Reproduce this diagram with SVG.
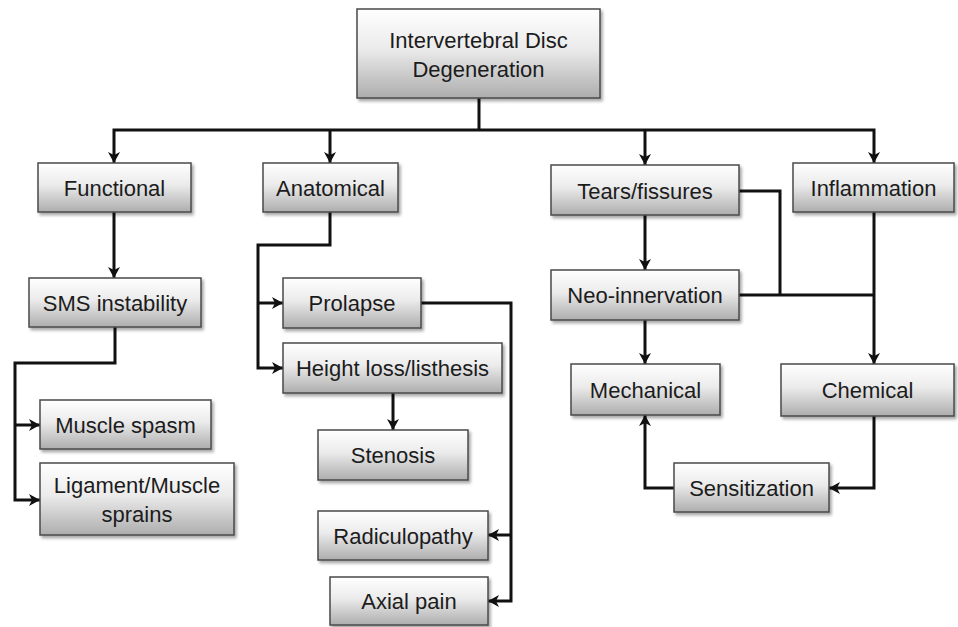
<svg xmlns="http://www.w3.org/2000/svg" width="958" height="627" viewBox="0 0 958 627">
<defs>
<linearGradient id="g" x1="0" y1="0" x2="0" y2="1">
<stop offset="0" stop-color="#ffffff"/>
<stop offset="0.45" stop-color="#ebebeb"/>
<stop offset="1" stop-color="#adadad"/>
</linearGradient>
<filter id="sh" x="-10%" y="-10%" width="130%" height="140%">
<feDropShadow dx="2" dy="2.5" stdDeviation="1.5" flood-color="#000" flood-opacity="0.35"/>
</filter>
<marker id="ah" markerUnits="userSpaceOnUse" markerWidth="14" markerHeight="14" refX="11" refY="6" orient="auto">
<path d="M0,0 L11,6 L0,12 L3,6 z" fill="#111"/>
</marker>
<style>
.box rect{fill:url(#g);stroke:#4a4a4a;stroke-width:1.5;filter:url(#sh)}
.box text{font-family:"Liberation Sans",Arial,sans-serif;font-size:22px;fill:#1c1c1c;text-anchor:middle}
#connectors path{fill:none;stroke:#111;stroke-width:3}
.arr{marker-end:url(#ah)}
</style>
</defs>
<rect width="958" height="627" fill="#ffffff"/>
<g id="connectors">
<path d="M479,98 V130"/>
<path class="arr" d="M479,130 H114 V163"/>
<path class="arr" d="M330,130 V163"/>
<path class="arr" d="M645,130 V165"/>
<path class="arr" d="M479,130 H874 V163"/>
<path class="arr" d="M114,212 V278"/>
<path class="arr" d="M115,327 V363 H15 V500 H40"/>
<path class="arr" d="M15,425 H40"/>
<path class="arr" d="M330,212 V245 H258 V368 H283"/>
<path class="arr" d="M258,303 H283"/>
<path class="arr" d="M393,393 V430"/>
<path class="arr" d="M421,303 H511 V601 H488"/>
<path class="arr" d="M511,535 H488"/>
<path class="arr" d="M645,215 V270"/>
<path d="M739,191 H780 V295"/>
<path d="M739,295 H874"/>
<path class="arr" d="M874,212 V364"/>
<path class="arr" d="M645,320 V364"/>
<path class="arr" d="M874,416 V488 H829"/>
<path class="arr" d="M674,488 H645 V415"/>
</g>
<g id="root" class="box"><rect x="357" y="9" width="243" height="89"/><text x="478.5" y="48">Intervertebral Disc</text><text x="478.5" y="77">Degeneration</text></g>
<g id="functional" class="box"><rect x="38" y="163" width="153" height="49"/><text x="114.5" y="196">Functional</text></g>
<g id="anatomical" class="box"><rect x="263" y="163" width="135" height="49"/><text x="330.5" y="196">Anatomical</text></g>
<g id="tears" class="box"><rect x="551" y="165" width="188" height="50"/><text x="645" y="199">Tears/fissures</text></g>
<g id="inflammation" class="box"><rect x="793" y="163" width="161" height="49"/><text x="873.5" y="196">Inflammation</text></g>
<g id="sms" class="box"><rect x="29" y="278" width="172" height="49"/><text x="115" y="311">SMS instability</text></g>
<g id="spasm" class="box"><rect x="40" y="400" width="171" height="49"/><text x="125.5" y="433">Muscle spasm</text></g>
<g id="sprains" class="box"><rect x="40" y="463" width="194" height="72"/><text x="137" y="493">Ligament/Muscle</text><text x="137" y="522">sprains</text></g>
<g id="prolapse" class="box"><rect x="283" y="278" width="138" height="50"/><text x="352" y="311">Prolapse</text></g>
<g id="heightloss" class="box"><rect x="283" y="343" width="219" height="50"/><text x="392.5" y="376">Height loss/listhesis</text></g>
<g id="stenosis" class="box"><rect x="318" y="430" width="150" height="50"/><text x="393" y="463">Stenosis</text></g>
<g id="radiculopathy" class="box"><rect x="318" y="511" width="170" height="49"/><text x="403" y="544">Radiculopathy</text></g>
<g id="axial" class="box"><rect x="330" y="577" width="158" height="48"/><text x="409" y="609">Axial pain</text></g>
<g id="neo" class="box"><rect x="551" y="270" width="188" height="50"/><text x="645" y="303">Neo-innervation</text></g>
<g id="mechanical" class="box"><rect x="571" y="364" width="149" height="51"/><text x="645.5" y="398">Mechanical</text></g>
<g id="chemical" class="box"><rect x="781" y="364" width="173" height="52"/><text x="867.5" y="398">Chemical</text></g>
<g id="sensitization" class="box"><rect x="674" y="463" width="155" height="49"/><text x="751.5" y="496">Sensitization</text></g>
</svg>
